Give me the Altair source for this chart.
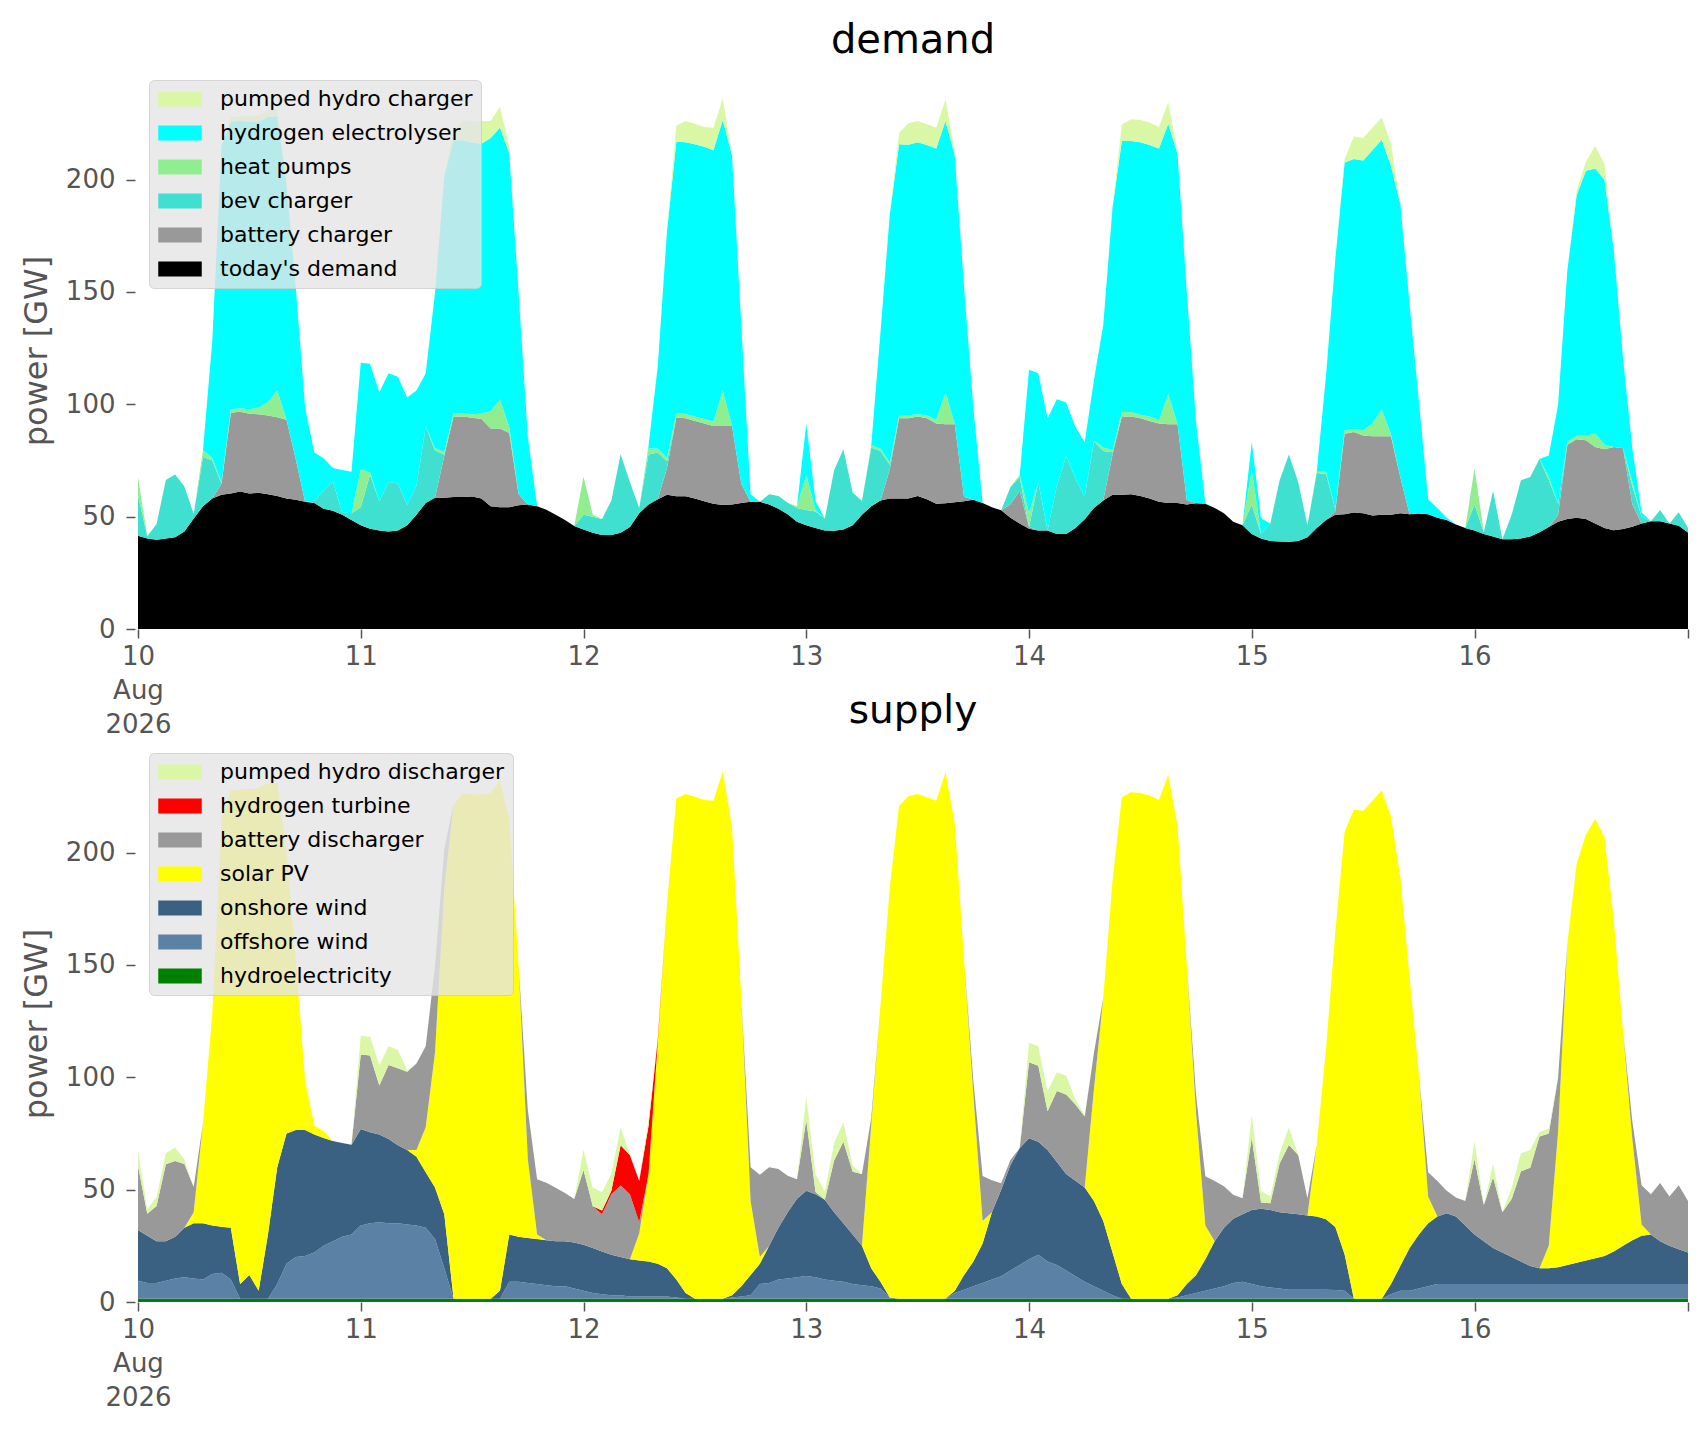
import altair as alt
import pandas as pd

# ---------------- time axis (hourly, 10-16 Aug 2026) ----------------
START = "2026-08-10 00:00"
N_HOURS = 168
DAY_TICKS = [10, 11, 12, 13, 14, 15, 16]

# ---------------- demand series [GW] ----------------
todays_demand = [
    41.5, 40.3, 39.7, 40.3, 40.8, 43.4, 49.2, 54.6, 58.1, 59.7, 60.3, 61.2, 60.3, 60.6, 60.0, 59.2, 58.1, 57.5, 56.6, 56.1, 53.5, 52.6, 50.8, 48.5,
    46.2, 44.6, 43.8, 43.4, 43.8, 46.2, 50.8, 56.1, 58.4, 58.4, 58.8, 58.8, 59.0, 58.1, 54.6, 54.2, 54.2, 55.1, 55.4, 54.6, 53.1, 50.8, 48.5, 45.8,
    44.3, 42.8, 41.8, 41.8, 42.8, 45.4, 51.5, 55.4, 57.7, 59.7, 59.1, 59.1, 58.1, 56.9, 55.7, 55.2, 55.4, 56.1, 56.6, 56.6, 55.4, 53.5, 51.1, 47.7,
    46.2, 44.9, 43.8, 43.7, 44.3, 46.2, 50.8, 54.6, 57.2, 58.1, 58.1, 58.1, 59.2, 57.7, 55.7, 56.0, 56.4, 56.9, 57.5, 56.1, 54.2, 52.8, 49.5, 46.9,
    44.6, 43.8, 43.8, 42.3, 42.3, 44.9, 48.9, 53.9, 57.2, 59.7, 59.7, 60.0, 59.2, 58.1, 56.6, 56.1, 56.1, 55.4, 56.0, 55.7, 53.9, 51.5, 47.7, 46.2,
    42.3, 40.3, 39.2, 38.9, 38.8, 39.2, 40.8, 44.9, 48.5, 50.8, 51.1, 51.9, 51.5, 50.5, 50.8, 50.8, 51.5, 51.1, 51.4, 51.1, 49.5, 48.5, 46.5, 44.9,
    43.8, 42.3, 41.2, 40.0, 40.0, 40.3, 41.2, 43.1, 45.4, 47.7, 49.0, 49.5, 49.0, 47.0, 45.0, 44.0, 44.5, 45.5, 47.0, 48.0, 48.0, 47.0, 46.0, 43.0,
]
battery_charger = [
    0, 0, 0, 0, 0, 0, 0, 0, 0, 5, 36, 35.5, 35.5, 35, 35, 35, 35, 18, 0, 0, 0, 0, 0, 0,
    0, 0, 0, 0, 0, 0, 0, 0, 0, 18.7, 35.8, 35.8, 35, 35.4, 34.6, 35, 33, 5, 0, 0, 0, 0, 0, 0,
    0, 0, 0, 0, 0, 0, 0, 0, 0, 12, 35, 34.7, 34.5, 34.6, 34.7, 35.2, 35, 8.5, 0, 0, 0, 0, 0, 0,
    0, 0, 0, 0, 0, 0, 0, 0, 0, 13, 35.7, 35.7, 35.4, 36.1, 35.8, 35.1, 34.7, 2, 0, 0, 0, 0, 6, 14.6,
    0.8, 0, 0, 0, 0, 0, 0, 0, 0, 18, 34.9, 34.6, 34.6, 34.5, 34.9, 35, 35, 2, 0, 0, 0, 0, 0, 0,
    0, 0, 0, 0, 0, 0, 0, 0, 0, 1.5, 35.8, 35.8, 34.6, 35.3, 35, 35, 16.2, 0, 0, 0, 0, 0, 0, 0,
    0, 0, 0, 0, 0, 0, 0, 0, 0, 3, 33, 35, 35, 34, 35, 37, 36, 10, 0, 0, 0, 0, 0, 0,
]
bev_charger = [
    18, 1, 7, 26, 28, 20, 2, 22, 17, 0, 0, 0, 0, 0, 0, 0, 0, 0, 0, 1, 8, 13, 1, 3,
    8, 24, 13, 22, 21, 9, 13, 34, 21, 0.5, 0, 0, 0, 0, 0, 0, 0, 0, 0, 0, 0, 0, 0, 0,
    6.5, 7.2, 7.2, 15.4, 35, 20, 2.3, 22.3, 20.8, 3, 0, 0, 0, 0, 0, 0, 0, 0, 0, 0, 4.6, 5.7, 5.1, 6.1,
    6.8, 7.4, 5.4, 27, 35.7, 14.6, 6.2, 26.2, 22, 2, 0, 0, 0, 0, 0, 0, 0, 0, 0, 0, 0, 0, 7.7, 6.2,
    0, 21.6, 0, 21.6, 34.7, 22.1, 10.3, 29.5, 22, 1, 0, 0, 0, 0, 0, 0, 0, 0, 0, 0, 0, 0, 0, 0,
    13.1, 2, 7.8, 27.3, 38.9, 26.2, 5.4, 24.5, 20.5, 1, 0, 0, 0, 0, 0, 0, 0, 0, 0, 0, 0, 0, 0, 0,
    11.6, 0.8, 20.3, 0, 10.8, 25.9, 26.5, 32.6, 20.8, 5, 0, 0, 0, 0, 0, 0, 0, 8, 3, 0, 5, 0, 6, 2,
]
heat_pumps = [
    8, 0, 0, 0, 0, 0, 0, 3, 1, 0.5, 1.5, 1.5, 2, 3, 6, 12, 0, 0, 0, 0, 0, 0, 0, 0,
    17, 1, 0, 0, 0, 0, 0, 0, 1, 1.3, 1.5, 1.5, 1.5, 2.5, 7.7, 13, 2.6, 0, 0, 0, 0, 0, 0, 0,
    17, 0.8, 0, 0, 0, 0, 0, 2.6, 1.8, 1.5, 2, 1.9, 2, 2, 1.9, 15.7, 0, 0, 0, 0, 0, 0, 0, 0.8,
    15.5, 0.7, 0, 0, 0, 0, 0, 1, 1, 1, 1.6, 1.3, 1, 1.2, 1.5, 14.3, 0, 0, 0, 0, 0, 0, 0, 0.8,
    6.1, 0, 0, 0, 0, 0, 0, 0.5, 1.6, 1, 2, 2, 1.5, 2, 1.5, 13.5, 0, 0, 0, 0, 0, 0, 0, 0,
    15.4, 0, 0, 0, 0, 0, 0, 0.6, 1, 0, 1.6, 1.3, 2.4, 5.7, 11.9, 0.8, 0, 0, 0, 0, 0, 0, 0, 0,
    16.1, 0, 0, 0, 0, 0, 0, 0, 1.5, 0, 1.5, 1.5, 2, 6, 2, 0, 0, 2, 0, 0, 0, 0, 0, 0,
]
hydrogen_electrolyser = [
    0, 0, 0, 0, 0, 0, 0, 0, 52, 150, 128, 128, 128, 127, 127, 122, 105, 76.5, 42, 21.4, 14.5, 6, 19, 18.5,
    47.3, 48.4, 48.6, 48.4, 47.5, 47.8, 42.3, 23.7, 69.2, 122.6, 121.4, 121.4, 121, 120, 121.6, 121, 122, 90, 30, 0, 0, 0, 0, 0,
    0, 0, 0, 0, 0, 0, 0, 1, 36.6, 101, 120.8, 120.9, 121.1, 121.1, 120.8, 120.4, 120.4, 70.4, 3.4, 0, 0, 0, 0, 0,
    23, 3.9, 0, 0, 0, 0, 0, 0, 52, 110.5, 120.4, 120.4, 121, 120.4, 120.8, 120.7, 119.7, 93.4, 41, 0, 0, 0, 0, 0,
    63.9, 48.4, 50, 38.4, 23.8, 23, 23.9, 27, 54.6, 108, 120.6, 120.6, 121.3, 120.8, 120.8, 120.3, 120.4, 92.6, 36, 0.3, 0, 0, 0, 0,
    12.3, 7, 0, 0, 0, 0, 0, 0, 42.8, 111.3, 119.1, 120.2, 120, 121.6, 120, 119.5, 121.5, 93.5, 50.1, 6.6, 4.3, 1, 0, 0,
    0, 0, 0, 0, 0, 0, 0, 0, 9.5, 44, 76, 107, 118, 118, 118, 88, 40, 15, 2, 0, 0, 0, 0, 0,
]
pumped_hydro_charger = [
    0, 0, 0, 0, 0, 0, 0, 0, 0, 0, 2, 2, 2.5, 3, 3, 3, 2, 0, 0, 0, 0, 0, 0, 0,
    0, 0, 0, 0, 0, 0, 0, 0, 0, 0, 4, 9, 9.5, 10, 7.6, 9.2, 3, 0, 0, 0, 0, 0, 0, 0,
    0, 0, 0, 0, 0, 0, 0, 0, 0, 0, 7.2, 9.5, 9.2, 8.8, 10, 9.6, 0.7, 0, 0, 0, 0, 0, 0, 0,
    0, 0, 0, 0, 0, 0, 0, 0, 0, 0, 5, 9.6, 9.5, 9.2, 9.3, 9.6, 2.3, 0, 0, 0, 0, 0, 0, 0,
    0, 0, 0, 0, 0, 0, 0, 0, 0, 0, 7.4, 9.7, 9.9, 10, 9.6, 9.7, 0.5, 0, 0, 0, 0, 0, 0, 0,
    0, 0, 0, 0, 0, 0, 0, 0, 0, 0, 1.6, 10, 10, 10, 10, 10, 0, 0, 0, 0, 0, 0, 0, 0,
    0, 0, 0, 0, 0, 0, 0, 0, 0, 0, 0, 2, 4, 10, 7, 1, 0, 0, 0, 0, 0, 0, 0, 0,
]

# ---------------- supply series [GW] ----------------
hydroelectricity = [
    1.5, 1.5, 1.5, 1.5, 1.5, 1.5, 1.5, 1.5, 1.5, 1.5, 1.5, 1.5, 1.5, 1.5, 1.5, 1.5, 1.5, 1.5, 1.5, 1.5, 1.5, 1.5, 1.5, 1.5,
    1.5, 1.5, 1.5, 1.5, 1.5, 1.5, 1.5, 1.5, 1.5, 1.5, 1.5, 1.5, 1.5, 1.5, 1.5, 1.5, 1.5, 1.5, 1.5, 1.5, 1.5, 1.5, 1.5, 1.5,
    1.5, 1.5, 1.5, 1.5, 1.5, 1.5, 1.5, 1.5, 1.5, 1.5, 1.5, 1.5, 1.5, 1.5, 1.5, 1.5, 1.5, 1.5, 1.5, 1.5, 1.5, 1.5, 1.5, 1.5,
    1.5, 1.5, 1.5, 1.5, 1.5, 1.5, 1.5, 1.5, 1.5, 1.5, 1.5, 1.5, 1.5, 1.5, 1.5, 1.5, 1.5, 1.5, 1.5, 1.5, 1.5, 1.5, 1.5, 1.5,
    1.5, 1.5, 1.5, 1.5, 1.5, 1.5, 1.5, 1.5, 1.5, 1.5, 1.5, 1.5, 1.5, 1.5, 1.5, 1.5, 1.5, 1.5, 1.5, 1.5, 1.5, 1.5, 1.5, 1.5,
    1.5, 1.5, 1.5, 1.5, 1.5, 1.5, 1.5, 1.5, 1.5, 1.5, 1.5, 1.5, 1.5, 1.5, 1.5, 1.5, 1.5, 1.5, 1.5, 1.5, 1.5, 1.5, 1.5, 1.5,
    1.5, 1.5, 1.5, 1.5, 1.5, 1.5, 1.5, 1.5, 1.5, 1.5, 1.5, 1.5, 1.5, 1.5, 1.5, 1.5, 1.5, 1.5, 1.5, 1.5, 1.5, 1.5, 1.5, 1.5,
]
offshore_wind = [
    8, 7, 7, 8, 9, 9.5, 9, 8.5, 11, 11.5, 8.5, 0, 0, 0, 0, 6.5, 15.5, 18.5, 19, 20.5, 23.5, 25.5, 27.5, 28.5,
    32.5, 33.5, 34, 33.5, 33.5, 33, 32.5, 31.5, 26.5, 13.5, 0, 0, 0, 0, 0, 0, 7.5, 7.5, 7, 6.5, 6, 5.5, 5.5, 4.5,
    3.5, 2.5, 2, 1.5, 1.5, 1, 1, 1, 1, 1, 0.5, 0, 0, 0, 0, 0, 0.5, 1, 1.5, 6.5, 7, 8.5, 9, 9.5,
    10.1, 9.5, 8.5, 8, 7.5, 6.5, 6, 5.5, 4.5, 0.5, 0, 0, 0, 0, 0, 0, 2.5, 4, 5.5, 7, 8.5, 10, 12.5, 15,
    17.5, 19.5, 16.5, 15, 12.5, 10, 7.5, 5.5, 3.5, 1.5, 0, 0, 0, 0, 0, 0, 0.5, 1.5, 2.5, 3.5, 4.5, 5.5, 7, 7.5,
    6.5, 5.5, 5, 4.5, 4, 4, 4, 4, 4, 3.8, 3.5, 0, 0, 0, 0, 2, 3.5, 3.5, 4.5, 5.5, 6.5, 6.5, 6.5, 6.5,
    6.5, 6.5, 6.5, 6.5, 6.5, 6.5, 6.5, 6.5, 6.5, 6.5, 6.5, 6.5, 6.5, 6.5, 6.5, 6.5, 6.5, 6.5, 6.5, 6.5, 6.5, 6.5, 6.5, 6.5,
]
onshore_wind = [
    22.5, 21, 18.5, 17.5, 18.5, 22, 24.5, 25, 21.5, 20.5, 23, 6.5, 10.5, 3.5, 28.5, 52, 58, 56.6, 56.1, 52.5, 48, 44.6, 41.8, 40,
    43, 40.5, 39, 37.5, 34.8, 33.1, 30.6, 24.8, 23, 24, 0, 0, 0, 0, 0, 3.5, 21, 20, 20, 20, 20, 20, 20, 20.5,
    20.5, 20, 19, 18, 17, 16.5, 16, 15.5, 14.5, 12.5, 8, 2.5, 0, 0, 0, 0, 1, 4.5, 9, 9, 16.5, 23, 29.5, 35,
    37.9, 37, 35.5, 30.5, 26, 22, 17.5, 8, 3, 0, 0, 0, 0, 0, 0, 0, 1, 6.5, 11, 17.5, 30, 38.5, 47, 52,
    53.9, 50.3, 49.6, 45.8, 43, 42.5, 42, 38, 31, 19, 6.5, 0, 0, 0, 0, 0, 1, 5, 8, 14, 21, 26, 28.5, 30,
    33, 34.5, 34.5, 34, 34, 33.5, 33, 32.5, 31.3, 28.1, 16.3, 0, 0, 0, 0, 4.5, 11, 19, 24, 28, 30, 31.5, 30, 26,
    22, 19, 16, 14, 12, 10, 8, 7, 7, 7.5, 8.5, 9.5, 10.5, 11.5, 12.5, 14.5, 17, 19.5, 21.5, 22, 19, 17, 15.5, 14,
]
solar_pv = [
    0, 0, 0, 0, 0, 0, 5, 44.6, 94.1, 181.7, 194.8, 220.2, 216.3, 223.6, 201, 171.2, 125.1, 75.4, 22, 4, 3, 0, 0, 0,
    0, 0, 0, 0, 0, 0, 3, 20, 60, 145, 220, 225, 224.5, 224.5, 224.6, 227.4, 184.8, 121.1, 35, 2, 0, 0, 0, 0,
    0, 0, 0, 0, 0, 0, 12, 39, 98.4, 162.2, 214.1, 222.1, 223.4, 221.9, 221.6, 234.6, 208.5, 128, 33, 3, 0, 0, 0, 0,
    0, 0, 0, 0, 0, 0, 0, 63.8, 123.2, 182.6, 219.3, 223.6, 224.6, 223.1, 221.6, 234.2, 208.1, 140.3, 74.5, 10, 0, 0, 0, 0,
    0, 0, 0, 0, 0, 0, 0, 50, 99.4, 165.7, 216.6, 225.4, 225, 223.9, 221.9, 233.1, 209, 142, 72, 15, 0, 0, 0, 0,
    0, 0, 0, 0, 0, 0, 0, 32, 76, 131.2, 187.9, 217.7, 217, 221.6, 226.2, 208.1, 173.2, 120.6, 71.5, 12, 0, 0, 0, 0,
    0, 0, 0, 0, 0, 0, 0, 0, 10, 60, 143, 177.5, 189.5, 195.5, 186.5, 147.5, 95.5, 45, 5, 0, 0, 0, 0, 0,
]
battery_discharger = [
    28.5, 9.8, 15.7, 34.3, 33.8, 28.4, 11.2, 0, 0, 0, 0, 0, 0, 0, 0, 0, 0, 0, 0, 0, 0, 0, 0, 0,
    33.2, 34.2, 21.9, 33, 34.2, 34.9, 38.5, 36, 38.6, 17.5, 0, 0, 0, 0, 0, 0, 0, 0, 21.9, 24.6, 25.6, 23.8, 21.5, 19.3,
    33.3, 18.6, 16.5, 27, 31.8, 29, 5, 0, 0, 0, 0, 0, 0, 0, 0, 0, 0, 0, 15, 36.6, 35, 26.2, 16.2, 8.6,
    31.5, 1, 0, 23, 36.3, 28, 32, 3, 0, 0, 0, 0, 0, 0, 0, 0, 0, 0, 6, 20.1, 14.2, 2.8, 2.2, 0,
    33.8, 33.9, 17.3, 31.6, 35.4, 33.9, 31.6, 15.9, 0, 0, 0, 0, 0, 0, 0, 0, 0, 0, 8, 22, 26.9, 18.5, 10.7, 7.2,
    32.1, 2.8, 3, 21.6, 30.4, 26.4, 7.7, 0, 0, 0, 0, 0, 0, 0, 0, 0, 0, 0, 0, 10.7, 15.8, 10, 8.5, 10.9,
    33.5, 16.1, 31.5, 18, 25.8, 40.2, 43.7, 58.7, 50, 24.2, 0, 0, 0, 0, 0, 0, 0, 8, 17.5, 18, 26, 22, 28.5, 23,
]
hydrogen_turbine = [
    0, 0, 0, 0, 0, 0, 0, 0, 0, 0, 0, 0, 0, 0, 0, 0, 0, 0, 0, 0, 0, 0, 0, 0,
    0, 0, 0, 0, 0, 0, 0, 0, 0, 0, 0, 0, 0, 0, 0, 0, 0, 0, 0, 0, 0, 0, 0, 0,
    0, 0, 1.7, 1.5, 18, 17.3, 18.3, 21.3, 1.5, 0, 0, 0, 0, 0, 0, 0, 0, 0, 0, 0, 0, 0, 0, 0,
    0, 0, 0, 0, 0, 0, 0, 0, 0, 0, 0, 0, 0, 0, 0, 0, 0, 0, 0, 0, 0, 0, 0, 0,
    0, 0, 0, 0, 0, 0, 0, 0, 0, 0, 0, 0, 0, 0, 0, 0, 0, 0, 0, 0, 0, 0, 0, 0,
    0, 0, 0, 0, 0, 0, 0, 0, 0, 0, 0, 0, 0, 0, 0, 0, 0, 0, 0, 0, 0, 0, 0, 0,
    0, 0, 0, 0, 0, 0, 0, 0, 0, 0, 0, 0, 0, 0, 0, 0, 0, 0, 0, 0, 0, 0, 0, 0,
]
pumped_hydro_discharger = [
    7, 2, 4, 5, 6, 2, 0, 0, 0, 0, 0, 0, 0, 0, 0, 0, 0, 0, 0, 0, 0, 0, 0, 0,
    8.3, 8.3, 9, 8.3, 8.3, 0.5, 0, 0, 0, 0, 0, 0, 0, 0, 0, 0, 0, 0, 0, 0, 0, 0, 0, 0,
    9, 8.2, 8.3, 7.7, 8, 0.1, 0, 3, 0, 0, 0, 0, 0, 0, 0, 0, 0, 0, 0, 0, 0, 0, 0, 0,
    10.5, 7.9, 3.7, 7.7, 8.7, 2.8, 0, 0, 0, 0, 0, 0, 0, 0, 0, 0, 0, 0, 0, 0, 0, 0, 0, 0,
    8.7, 8.6, 8.9, 8.4, 8.4, 2.1, 0.5, 0, 0, 0, 0, 0, 0, 0, 0, 0, 0, 0, 0, 0, 0, 0, 0, 0,
    10, 5, 3, 4.6, 7.8, 0, 0, 0, 0, 0, 0, 0, 0, 0, 0, 0, 0, 0, 0, 0, 0, 0, 0, 0,
    8, 0, 6, 0, 5, 8, 8, 2, 2.2, 0, 0, 0, 0, 0, 0, 0, 0, 0, 0, 0, 0, 0, 0, 0,
]

# stack order bottom -> top ; legend order is the reverse
DEMAND_SERIES = [
    ("today's demand", todays_demand, "#000000"),
    ("battery charger", battery_charger, "#999999"),
    ("bev charger", bev_charger, "#40e0d0"),
    ("heat pumps", heat_pumps, "#90ee90"),
    ("hydrogen electrolyser", hydrogen_electrolyser, "#00ffff"),
    ("pumped hydro charger", pumped_hydro_charger, "#daf7a6"),
]
SUPPLY_SERIES = [
    ("hydroelectricity", hydroelectricity, "#008000"),
    ("offshore wind", offshore_wind, "#5b82a5"),
    ("onshore wind", onshore_wind, "#3b6182"),
    ("solar PV", solar_pv, "#ffff00"),
    ("battery discharger", battery_discharger, "#999999"),
    ("hydrogen turbine", hydrogen_turbine, "#ff0000"),
    ("pumped hydro discharger", pumped_hydro_discharger, "#daf7a6"),
]

times = [t.strftime("%Y-%m-%dT%H:%M:%SZ") for t in pd.date_range(START, periods=N_HOURS, freq="h")]


def long_frame(series):
    rows = []
    for k, (name, vals, _) in enumerate(series):
        for t, v in zip(times, vals):
            rows.append({"time": t, "series": name, "value": v, "order": k})
    return pd.DataFrame(rows)


FONT = "DejaVu Sans"
GREY = "#555555"

x_domain = [
    alt.DateTime(year=2026, month=8, date=10, hours=0, utc=True),
    alt.DateTime(year=2026, month=8, date=16, hours=23, utc=True),
]
x_ticks = [alt.DateTime(year=2026, month=8, date=d, hours=0, utc=True) for d in DAY_TICKS]
x_ticks.append(alt.DateTime(year=2026, month=8, date=16, hours=23, utc=True))

label_expr = (
    "utchours(datum.value) != 0 ? '' : (utcdate(datum.value) == 10 ? "
    "[utcFormat(datum.value, '%d'), utcFormat(datum.value, '%b'), utcFormat(datum.value, '%Y')] : "
    "utcFormat(datum.value, '%d'))"
)


def panel(series, title, title_size, title_offset, height):
    df = long_frame(series)
    names = [s[0] for s in series][::-1]
    colors = [s[2] for s in series][::-1]
    return (
        alt.Chart(df)
        .mark_area(interpolate="linear", strokeWidth=0)
        .encode(
            x=alt.X(
                "time:T",
                scale=alt.Scale(type="utc", domain=x_domain, nice=False),
                axis=alt.Axis(
                    values=x_ticks,
                    labelExpr=label_expr,
                    title=None,
                    grid=False,
                    domain=False,
                    tickColor=GREY,
                    tickSize=9,
                    tickWidth=1.5,
                    labelColor=GREY,
                    labelFontSize=26,
                    labelFont=FONT,
                    labelPadding=5,
                    labelLineHeight=34,
                    labelOverlap=False,
                    labelFlush=False,
                    labelBound=False,
                ),
            ),
            y=alt.Y(
                "value:Q",
                stack="zero",
                scale=alt.Scale(domain=[0, 247.9], nice=False, zero=True),
                axis=alt.Axis(
                    values=[0, 50, 100, 150, 200],
                    grid=False,
                    domain=False,
                    tickColor=GREY,
                    tickSize=9,
                    tickWidth=1.5,
                    offset=3,
                    labelColor=GREY,
                    labelFontSize=26,
                    labelFont=FONT,
                    labelPadding=11,
                    title="power [GW]",
                    titleColor=GREY,
                    titleFontSize=32,
                    titleFont=FONT,
                    titleFontWeight="normal",
                    titlePadding=12,
                ),
            ),
            color=alt.Color(
                "series:N",
                scale=alt.Scale(domain=names, range=colors),
                legend=alt.Legend(
                    title=None,
                    orient="none",
                    legendX=11,
                    legendY=8,
                    fillColor="rgba(229,229,229,0.8)",
                    strokeColor="rgba(204,204,204,0.8)",
                    cornerRadius=5,
                    padding=8,
                    labelFont=FONT,
                    labelFontSize=22,
                    labelColor="black",
                    labelLimit=500,
                    labelOffset=41,
                    symbolType="M-1.3,-1L4.5,-1L4.5,1L-1.3,1Z",
                    symbolSize=225,
                    symbolStrokeWidth=0,
                    symbolOpacity=1,
                    rowPadding=12,
                ),
            ),
            order=alt.Order("order:Q", sort="ascending"),
        )
        .properties(
            width=1550,
            height=height,
            title=alt.TitleParams(
                text=title,
                fontSize=title_size,
                fontWeight="normal",
                font=FONT,
                color="black",
                anchor="middle",
                baseline="alphabetic",
                offset=title_offset,
            ),
        )
    )


demand = panel(DEMAND_SERIES, "demand", 40, -21, 557)
supply = panel(SUPPLY_SERIES, "supply", 39, -17, 557)

chart = (
    alt.vconcat(demand, supply, spacing=116, bounds="flush")
    .resolve_scale(color="independent")
    .configure(font=FONT, padding={"left": 12, "top": 13, "right": 5, "bottom": 5}, background="white")
    .configure_view(stroke=None)
)

chart.save("out.html", embed_options={"renderer": "svg", "actions": False})
